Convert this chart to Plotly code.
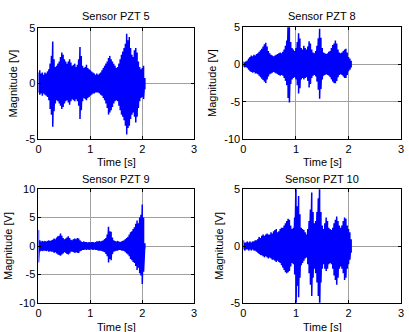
import plotly.graph_objects as go

DT = 0.025  # sampling step of the envelope readings [s]

titles = ["Sensor PZT 5", "Sensor PZT 8", "Sensor PZT 9", "Sensor PZT 10"]

pzt5_hi = [1.0, 1.2, 0.9, 1.0, 0.8, 1.0, 0.9, 1.1, 1.3, 1.8,
           2.5, 3.8, 2.2, 1.5, 1.6, 1.8, 2.0, 2.4, 2.8, 2.6,
           2.2, 2.0, 1.8, 2.0, 2.2, 1.9, 1.6, 1.7, 1.8, 1.5,
           1.7, 2.2, 3.3, 2.5, 1.6, 1.4, 1.5, 1.7, 1.4, 1.3,
           1.2, 1.1, 1.0, 0.9, 0.8, 0.9, 0.8, 0.9, 1.0, 1.2,
           1.4, 1.6, 1.8, 2.0, 2.3, 2.5, 2.2, 2.0, 1.8, 1.6,
           1.4, 1.5, 1.8, 2.2, 2.6, 2.9, 3.2, 3.6, 4.5, 3.9,
           4.2, 3.2, 2.6, 2.4, 3.0, 3.2, 2.8, 2.0, 1.5, 1.3,
           1.4, 1.6, 0.5]
pzt5_lo = [-0.8, -1.0, -0.9, -1.1, -0.9, -1.0, -1.1, -1.2, -1.5, -2.3,
           -2.8, -3.9, -2.5, -1.8, -1.5, -1.6, -1.8, -2.0, -2.3, -2.1,
           -1.8, -1.6, -1.5, -1.7, -1.9, -1.6, -1.4, -1.5, -1.6, -1.4,
           -1.6, -2.0, -3.2, -2.4, -1.6, -1.3, -1.4, -1.5, -1.3, -1.2,
           -1.1, -1.0, -0.9, -0.9, -0.8, -0.8, -0.8, -0.9, -1.0, -1.1,
           -1.3, -1.5, -1.8, -2.2, -2.8, -2.6, -2.4, -2.1, -1.8, -1.6,
           -1.5, -1.6, -2.0, -2.4, -2.8, -3.0, -3.3, -3.8, -4.6, -4.0,
           -3.8, -3.2, -2.8, -2.6, -3.0, -3.5, -3.0, -2.2, -1.6, -1.3,
           -1.2, -1.4, -0.5]

pzt8_hi = [0.4, 0.3, 0.4, 0.5, 0.8, 1.0, 1.2, 1.1, 1.3, 1.2,
           1.4, 1.5, 1.7, 1.9, 2.1, 2.4, 2.7, 2.9, 2.4, 1.8,
           1.5, 1.3, 1.2, 1.1, 1.2, 1.3, 1.4, 1.5, 1.6, 1.5,
           1.7, 2.0, 2.5, 3.2, 5.5, 6.0, 3.0, 2.2, 2.0, 1.8,
           2.2, 3.0, 4.2, 3.5, 2.2, 2.0, 2.5, 2.2, 2.0, 2.4,
           3.1, 2.8, 2.0, 1.6, 1.5, 1.8, 2.5, 3.5, 4.8, 3.6,
           2.2, 1.6, 1.5, 1.4, 1.5, 1.7, 1.8, 2.2, 2.6, 2.8,
           3.2, 2.8, 2.0, 1.6, 1.5, 1.6, 1.8, 2.0, 2.1, 1.6,
           1.0, 0.8, 0.5]
pzt8_lo = [-0.3, -0.4, -0.3, -0.5, -0.7, -0.9, -1.0, -1.1, -1.0, -1.2,
           -1.2, -1.3, -1.5, -1.7, -1.9, -2.1, -2.3, -2.5, -2.0, -1.6,
           -1.3, -1.2, -1.1, -1.0, -1.1, -1.2, -1.3, -1.4, -1.5, -1.4,
           -1.5, -1.8, -2.2, -2.8, -4.5, -5.1, -2.6, -2.0, -1.8, -1.7,
           -2.0, -2.8, -3.9, -3.2, -2.0, -1.8, -2.0, -1.8, -1.7, -2.2,
           -3.1, -2.6, -1.8, -1.5, -1.4, -1.6, -2.3, -3.4, -4.6, -3.3,
           -2.0, -1.5, -1.4, -1.3, -1.4, -1.5, -1.7, -2.0, -2.3, -2.5,
           -2.5, -2.2, -1.7, -1.4, -1.3, -1.4, -1.6, -1.8, -1.8, -1.4,
           -0.9, -0.7, -0.4]

pzt9_hi = [2.8, 1.0, 0.8, 0.9, 0.8, 0.9, 0.8, 0.9, 1.0, 0.9,
           1.0, 1.1, 1.3, 1.2, 1.5, 1.7, 1.8, 2.2, 1.8, 1.4,
           1.2, 1.3, 1.5, 1.7, 1.4, 1.1, 1.0, 1.2, 1.3, 1.2,
           1.4, 1.3, 1.0, 0.8, 0.7, 0.8, 0.7, 0.7, 0.6, 0.7,
           0.6, 0.7, 0.7, 0.6, 0.7, 0.8, 0.8, 0.9, 0.8, 0.9,
           1.0, 1.2, 1.4, 2.0, 3.4, 2.6, 2.5, 1.5, 1.0, 0.9,
           0.8, 0.9, 0.8, 0.7, 0.8, 0.9, 1.0, 1.2, 1.4, 1.6,
           2.0, 2.4, 2.6, 3.0, 3.3, 3.9, 4.5, 4.0, 5.0, 5.5,
           7.3, 5.0, 0.5]
pzt9_lo = [-2.9, -1.0, -0.8, -0.9, -0.8, -0.8, -0.9, -0.8, -1.0, -0.9,
           -1.0, -1.0, -1.2, -1.1, -1.3, -1.5, -1.6, -1.7, -1.5, -1.3,
           -1.1, -1.2, -1.4, -1.5, -1.3, -1.0, -1.0, -1.1, -1.2, -1.1,
           -1.2, -1.2, -0.9, -0.8, -0.7, -0.7, -0.6, -0.7, -0.6, -0.7,
           -0.6, -0.6, -0.7, -0.6, -0.7, -0.7, -0.8, -0.8, -0.8, -0.9,
           -1.0, -1.1, -1.4, -1.8, -2.9, -2.3, -2.5, -1.4, -1.0, -0.9,
           -0.8, -0.8, -0.7, -0.7, -0.8, -0.8, -0.9, -1.1, -1.3, -1.5,
           -1.8, -2.3, -2.5, -2.8, -3.0, -3.5, -4.2, -3.8, -4.8, -5.2,
           -6.7, -4.5, -0.5]

pzt10_hi = [0.5, 0.3, 0.3, 0.4, 0.3, 0.4, 0.3, 0.4, 0.4, 0.5,
            0.5, 0.6, 0.8, 0.7, 0.9, 1.0, 0.9, 1.0, 1.1, 1.0,
            1.0, 1.2, 1.1, 1.3, 1.4, 1.5, 1.2, 1.3, 1.5, 1.6,
            1.6, 1.8, 2.0, 2.2, 2.4, 2.3, 1.8, 1.5, 1.6, 2.5,
            6.0, 3.5, 4.4, 2.8, 1.6, 1.5, 1.4, 1.2, 1.0, 1.5,
            2.2, 3.2, 4.7, 3.0, 2.0, 2.2, 3.0, 4.2, 6.0, 3.0,
            1.8, 1.5, 2.0, 2.5, 2.2, 1.6, 1.5, 1.4, 1.6, 2.0,
            2.3, 2.6, 2.2, 1.8, 1.6, 1.8, 2.2, 2.5, 2.4, 1.8,
            1.5, 1.2, 0.6]
pzt10_lo = [-0.3, -0.4, -0.3, -0.3, -0.4, -0.3, -0.4, -0.3, -0.4, -0.4,
            -0.5, -0.6, -0.7, -0.8, -0.8, -0.9, -1.0, -0.9, -1.0, -1.1,
            -1.0, -1.1, -1.2, -1.2, -1.3, -1.4, -1.3, -1.4, -1.5, -1.7,
            -1.9, -2.1, -2.3, -2.4, -2.3, -2.2, -1.8, -1.5, -1.6, -2.5,
            -6.0, -3.5, -4.5, -2.8, -1.7, -1.5, -1.3, -1.1, -1.0, -1.6,
            -2.4, -3.4, -4.4, -2.8, -2.0, -2.4, -3.2, -4.4, -6.0, -3.2,
            -2.0, -1.6, -2.0, -2.2, -2.0, -1.6, -1.5, -1.6, -2.0, -2.6,
            -3.0, -3.4, -2.8, -2.0, -1.8, -2.0, -2.4, -3.0, -2.8, -2.0,
            -1.6, -1.2, -0.6]

x_ticks = [0, 1, 2, 3]
x_ticklabels = ["0", "1", "2", "3"]
y_ticks = [[-5, 0, 5], [-10, -5, 0, 5], [-10, -5, 0, 5, 10], [-5, 0, 5]]
y_ticklabels = [["-5", "0", "5"], ["-10", "-5", "0", "5"],
                ["-10", "-5", "0", "5", "10"], ["-5", "0", "5"]]
y_ranges = [[-5, 5], [-10, 5], [-10, 10], [-5, 5]]
x_range = [0, 3]

series = [(pzt5_hi, pzt5_lo), (pzt8_hi, pzt8_lo), (pzt9_hi, pzt9_lo), (pzt10_hi, pzt10_lo)]

# ---------------- layout geometry (pixels of the 409x332 canvas) --------------------------
W, H = 409, 332
boxes = [  # left, right, top, bottom
    (36, 194, 23, 138),
    (244, 404, 22, 138),
    (36, 194, 190, 308),
    (244, 404, 190, 308),
]
ylabel_x = [10, 212, 5, 219]
title_y = [10, 10, 179, 179]
xlabel_y = [162, 162, 333, 333]

FONT = "Liberation Sans, Arial, sans-serif"

fig = go.Figure()
layout = dict(width=W, height=H, margin=dict(l=0, r=0, t=0, b=0),
              paper_bgcolor="white", plot_bgcolor="white", showlegend=False,
              font=dict(family=FONT, size=11, color="black"))
annotations = []

for i, ((hi, lo), (l, r, t, b)) in enumerate(zip(series, boxes)):
    n = i + 1
    xs, ys = [], []
    for k, (h, lw) in enumerate(zip(hi, lo)):
        tk = k * DT
        xs += [tk, tk]
        ys += [h, lw]
    fig.add_trace(go.Scatter(x=xs, y=ys, mode="lines",
                             line=dict(color="#0000FF", width=1.5),
                             xaxis=f"x{n}", yaxis=f"y{n}", hoverinfo="skip"))
    axcommon = dict(showline=True, linecolor="black", linewidth=1, mirror="ticks",
                    ticks="inside", ticklen=3, tickcolor="black", showgrid=True,
                    gridcolor="#a0a0a0", gridwidth=1, zeroline=False,
                    tickfont=dict(family=FONT, size=11, color="black"))
    layout[f"xaxis{n}"] = dict(axcommon, domain=[l / W, r / W], range=x_range,
                               tickvals=x_ticks, ticktext=x_ticklabels,
                               anchor=f"y{n}")
    layout[f"yaxis{n}"] = dict(axcommon, domain=[1 - b / H, 1 - t / H], range=y_ranges[i],
                               tickvals=y_ticks[i], ticktext=y_ticklabels[i],
                               anchor=f"x{n}")
    cx = (l + r) / 2 / W
    annotations.append(dict(text=titles[i], x=cx, y=1 - title_y[i] / H, xref="paper",
                            yref="paper", showarrow=False, xanchor="center",
                            yanchor="middle", font=dict(size=11)))
    annotations.append(dict(text="Time [s]", x=cx, y=1 - xlabel_y[i] / H, xref="paper",
                            yref="paper", showarrow=False, xanchor="center",
                            yanchor="middle", font=dict(size=11)))
    annotations.append(dict(text="Magnitude [V]", x=ylabel_x[i] / W,
                            y=1 - (t + b) / 2 / H, xref="paper", yref="paper",
                            showarrow=False, textangle=-90, xanchor="center",
                            yanchor="middle", font=dict(size=11)))

layout["annotations"] = annotations
fig.update_layout(**layout)
fig.write_html("out.html")
